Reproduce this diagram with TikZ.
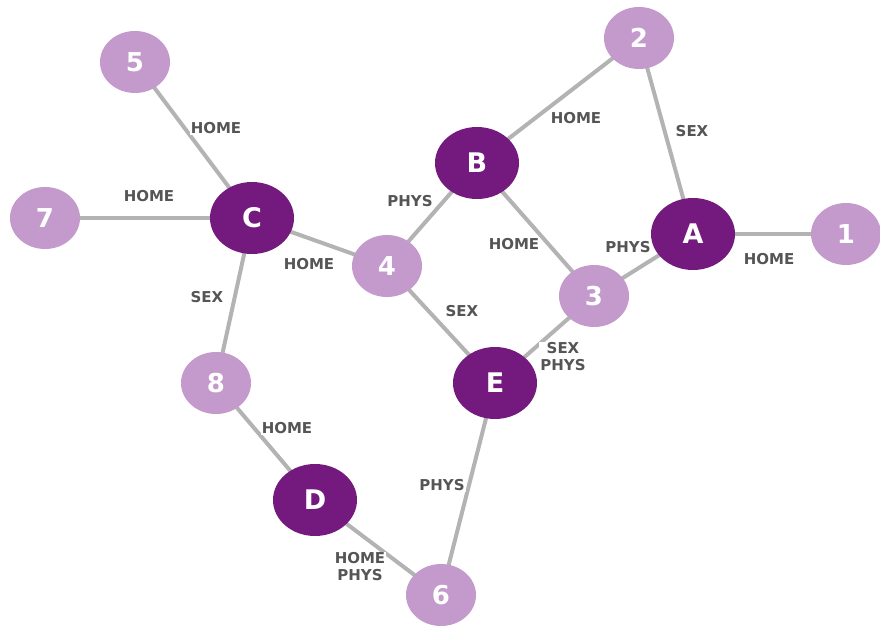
\documentclass[tikz,border=0pt]{standalone}
\usepackage{fontspec}
\setmainfont{DejaVu Sans}
\usetikzlibrary{shapes.geometric}
\definecolor{lightv}{HTML}{C49ACD}
\definecolor{darkv}{HTML}{74197D}
\definecolor{edgeg}{HTML}{B3B3B3}
\definecolor{labg}{HTML}{555555}
\begin{document}
\begin{tikzpicture}[x=1pt,y=-1pt,
  lnode/.style={ellipse, fill=lightv, minimum width=70pt, minimum height=62pt, inner sep=0pt, text=white, font=\fontsize{26}{26}\selectfont\bfseries},
  dnode/.style={ellipse, fill=darkv, minimum width=84pt, minimum height=72pt, inner sep=0pt, text=white, font=\fontsize{27}{27}\selectfont\bfseries},
  edge/.style={draw=edgeg, line width=4pt},
  elab/.style={fill=white, text=labg, inner sep=1pt, align=center, font=\fontsize{15}{17}\selectfont\bfseries}]
\useasboundingbox (0,0) rectangle (880,628);
% node coordinates
\coordinate (p5) at (135,62);
\coordinate (p2) at (639,38);
\coordinate (pB) at (477,163);
\coordinate (p7) at (45,218);
\coordinate (pC) at (252,218);
\coordinate (pA) at (693,234);
\coordinate (p1) at (846,234);
\coordinate (p4) at (387,266);
\coordinate (p3) at (594,296);
\coordinate (p8) at (216,383);
\coordinate (pE) at (495,383);
\coordinate (pD) at (315,500);
\coordinate (p6) at (441,595);
% edges
\draw[edge] (p5) -- (pC);
\draw[edge] (p7) -- (pC);
\draw[edge] (pC) -- (p4);
\draw[edge] (pC) -- (p8);
\draw[edge] (p8) -- (pD);
\draw[edge] (pD) -- (p6);
\draw[edge] (p4) -- (pB);
\draw[edge] (p4) -- (pE);
\draw[edge] (pB) -- (p2);
\draw[edge] (pB) -- (p3);
\draw[edge] (p2) -- (pA);
\draw[edge] (pA) -- (p1);
\draw[edge] (pA) -- (p3);
\draw[edge] (p3) -- (pE);
\draw[edge] (pE) -- (p6);
% edge labels
\node[elab] (l5C) at (216,128) {HOME};
\node[elab] (l7C) at (149,196) {HOME};
\node[elab] (lC4) at (309,264) {HOME};
\node[elab] (lC8) at (207,297) {SEX};
\node[elab] (l8D) at (287,428) {HOME};
\node[elab] (lD6) at (360,567) {HOME\\PHYS};
\node[elab] (l4B) at (410,201) {PHYS};
\node[elab] (l4E) at (462,311) {SEX};
\node[elab] (lB2) at (576,118) {HOME};
\node[elab] (lB3) at (514,244) {HOME};
\node[elab] (l2A) at (692,131) {SEX};
\node[elab] (lA1) at (769,259) {HOME};
\node[elab] (lA3) at (628,247) {PHYS};
\node[elab] (l3E) at (563,357) {SEX\\PHYS};
\node[elab] (lE6) at (442,485) {PHYS};
% nodes
\node[lnode] (n5) at (p5) {5};
\node[lnode] (n2) at (p2) {2};
\node[dnode] (nB) at (pB) {B};
\node[lnode] (n7) at (p7) {7};
\node[dnode] (nC) at (pC) {C};
\node[dnode] (nA) at (pA) {A};
\node[lnode] (n1) at (p1) {1};
\node[lnode] (n4) at (p4) {4};
\node[lnode] (n3) at (p3) {3};
\node[lnode] (n8) at (p8) {8};
\node[dnode] (nE) at (pE) {E};
\node[dnode] (nD) at (pD) {D};
\node[lnode] (n6) at (p6) {6};
\end{tikzpicture}
\end{document}
